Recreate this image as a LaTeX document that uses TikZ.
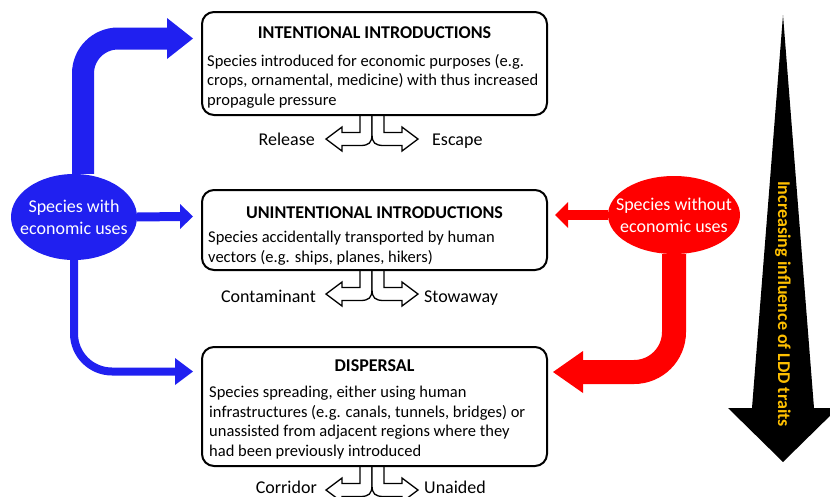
\documentclass[tikz,border=0pt]{standalone}
\usepackage{fontspec}
\setmainfont{Carlito}
\usetikzlibrary{shapes.geometric}
\definecolor{myblue}{RGB}{32,32,240}
\definecolor{myred}{RGB}{255,0,0}
\definecolor{myorange}{RGB}{255,192,0}
\tikzset{
  forkpic/.pic={
    \foreach \s in {1,-1}{
      \filldraw[fill=white, draw=black, line width=1.3pt, xscale=\s, line join=miter]
        (-12,-2) -- (-12,17.5) -- (-30,17.5) -- (-30,12) -- (-46,24) -- (-30,36) -- (-30,30.5)
        -- (-12,30.5) .. controls (-3,30.5) and (0,28) .. (0,19) -- (0,-2);
    }
  },
  box/.style={draw, fill=white, line width=2pt, rounded corners=12pt, minimum width=345pt, inner sep=0pt},
  ttl/.style={font=\fontsize{18}{21.6}\selectfont\bfseries, anchor=base, inner sep=0pt},
  body/.style={font=\fontsize{16.5}{20}\selectfont, anchor=base west, inner sep=0pt},
  lbl/.style={font=\fontsize{18}{21.6}\selectfont, inner sep=0pt},
  spec/.style={ellipse, inner sep=0pt},
  spectext/.style={inner sep=0pt, text=white, align=center, font=\fontsize{18}{22}\selectfont},
}
\begin{document}
\begin{tikzpicture}[x=1pt,y=-1pt]
\useasboundingbox (0,0) rectangle (830,496);
\clip (0,0) rectangle (830,496);

% black arrow
\fill[black] (783,15) -- (752,408) -- (728,408) -- (783,462) -- (838,408) -- (814,408) -- cycle;
\node[font=\fontsize{18}{20}\selectfont\bfseries, text=myorange, rotate=-90, inner sep=0pt] (ldd) at (783,304) {Increasing influence of LDD traits};

% forks
\pic at (372,115) {forkpic};
\pic at (372,270) {forkpic};
\pic at (372,466) {forkpic};

% boxes
\node[box, minimum height=103pt] (b1) at (374.5,63.5) {};
\node[box, minimum height=80pt] (b2) at (374.5,230) {};
\node[box, minimum height=119pt] (b3) at (374.5,406.5) {};

\node[ttl] (t1) at (374.5,38) {INTENTIONAL INTRODUCTIONS};
\node[body] (d1a) at (207,66) {Species introduced for economic purposes (e.g.};
\node[body] (d1b) at (207,85.5) {crops, ornamental, medicine) with thus increased};
\node[body] (d1c) at (207,105) {propagule pressure};
\node[ttl] (t2) at (374.5,218) {UNINTENTIONAL INTRODUCTIONS};
\node[body] (d2a) at (208,242) {Species accidentally transported by human};
\node[body] (d2b) at (208,262) {vectors (e.g. ships, planes, hikers)};
\node[ttl] (t3) at (374.5,371) {DISPERSAL};
\node[body] (d3a) at (209,397.5) {Species spreading, either using human};
\node[body] (d3b) at (209,417) {infrastructures (e.g. canals, tunnels, bridges) or};
\node[body] (d3c) at (209,436.5) {unassisted from adjacent regions where they};
\node[body] (d3d) at (209,456) {had been previously introduced};

% fork labels
\node[lbl, anchor=base east] (rel) at (315,145) {Release};
\node[lbl, anchor=base west] (esc) at (432,145) {Escape};
\node[lbl, anchor=base east] (con) at (316,302) {Contaminant};
\node[lbl, anchor=base west] (sto) at (424,302) {Stowaway};
\node[lbl, anchor=base east] (cor) at (317,493) {Corridor};
\node[lbl, anchor=base west] (una) at (424,493) {Unaided};

% ellipse shapes (anchors for the arrows)
\node[spec, minimum width=126pt, minimum height=86pt] (se) at (74,217) {};
\node[spec, minimum width=132pt, minimum height=78pt] (sn) at (674,215) {};

% blue arrows
\coordinate (bt1) at (193,38.5);
\draw[myblue, line width=22pt, rounded corners=35pt] ([xshift=9pt]se.north) |- (168,38.5);
\fill[myblue] (167,18) -- (bt1) -- (167,59) -- cycle;
\coordinate (bt2) at (193,216.5);
\draw[myblue, line width=9pt] (se.east) -- (181,216.5);
\fill[myblue] (180,204) -- (bt2) -- (180,229) -- cycle;
\coordinate (bt3) at (193,371.5);
\draw[myblue, line width=8pt, rounded corners=38pt] (se.south) |- (176,371.5);
\fill[myblue] (175,358) -- (bt3) -- (175,385) -- cycle;

% red arrows
\coordinate (rt2) at (555,215);
\draw[myred, line width=10pt] (sn.west) -- (567,215);
\fill[myred] (568,202) -- (rt2) -- (568,228) -- cycle;
\coordinate (rt3) at (553,372);
\draw[myred, line width=24pt, rounded corners=40pt] (sn.south) |- (582,372);
\fill[myred] (583,351) -- (rt3) -- (583,393) -- cycle;

% ellipses on top, with their texts
\fill[myblue] (se.center) ellipse [x radius=63pt, y radius=43pt];
\fill[myred] (sn.center) ellipse [x radius=66pt, y radius=39pt];
\node[spectext] (set) at (se.center) {Species with\\economic uses};
\node[spectext] (snt) at (sn.center) {Species without\\economic uses};
\end{tikzpicture}
\end{document}
